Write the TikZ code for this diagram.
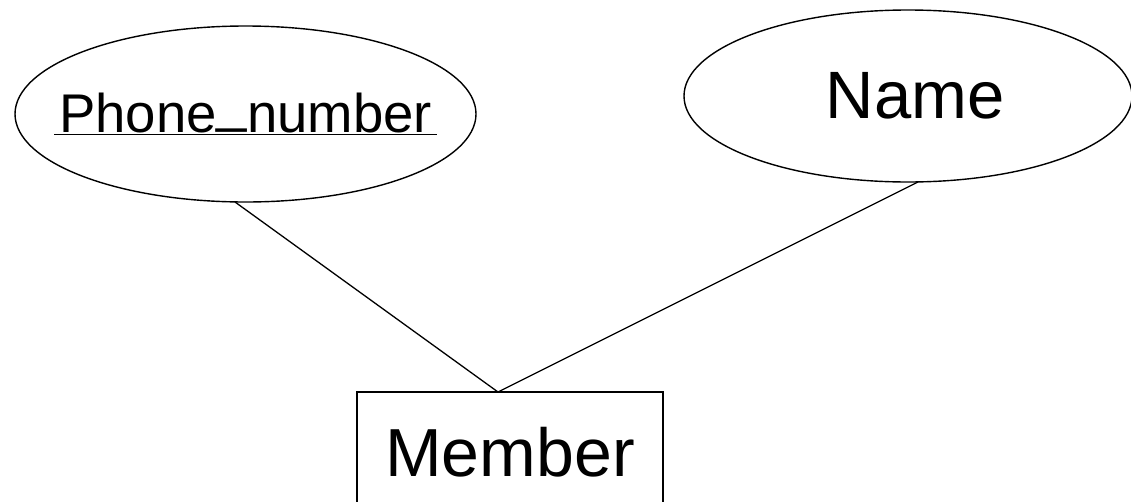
\documentclass[tikz,border=0pt]{standalone}
\usepackage{fontspec}
\setmainfont{Liberation Sans}
\usetikzlibrary{shapes.geometric}
\begin{document}
\begin{tikzpicture}[x=1pt,y=-1pt,
  attr/.style={ellipse,draw,line width=1.4pt,inner sep=0pt,outer sep=0pt},
  entity/.style={rectangle,draw,line width=2pt,inner xsep=0pt,outer sep=0pt,minimum width=306pt,text height=49pt,text depth=0pt,inner ysep=35pt},
  link/.style={line width=1.3pt}]
\useasboundingbox (0,0) rectangle (1131,501);
\clip (0,0) rectangle (1131,501);
\node[attr, minimum width=461pt, minimum height=176pt] (ph) at (245.5,114)
  {\makebox[0pt]{\fontsize{54.5}{60}\selectfont\underline{\hspace{5pt}Phone\raisebox{0.2em}{\_}number\hspace{5pt}}}};
\node[attr, minimum width=448pt, minimum height=172pt] (nm) at (908,96)
  {\makebox[0pt]{\hspace{14pt}\fontsize{67}{72}\selectfont Name}};
\node[entity] (m) at (510,451.5) {\fontsize{68}{74}\selectfont Member};
\draw[link] ([xshift=-10.5pt]ph.south) -- ([xshift=-12pt]m.north);
\draw[link] ([xshift=10pt]nm.south) -- ([xshift=-12pt]m.north);
\end{tikzpicture}
\end{document}
